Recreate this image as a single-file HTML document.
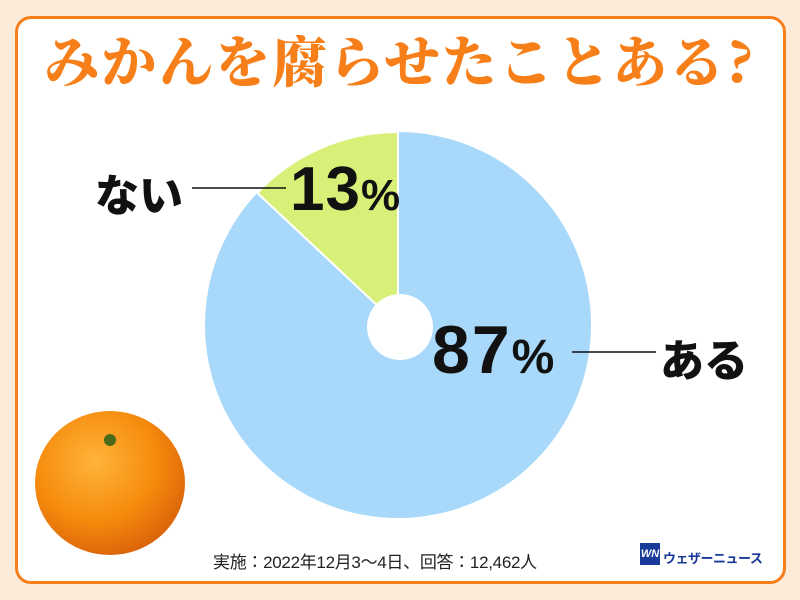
<!DOCTYPE html>
<html><head><meta charset="utf-8"><style>
body{margin:0;width:800px;height:600px;background:#fdebd9;position:relative;overflow:hidden;font-family:"Liberation Sans","Noto Sans CJK JP",sans-serif}
.frame{position:absolute;left:15px;top:16px;width:765px;height:562px;border:3px solid #f77f1a;border-radius:16px;background:#fff}
.title{position:absolute;left:0;width:800px;top:24px;text-align:center;font-family:"Noto Serif CJK SC","Noto Sans CJK JP",serif;font-weight:900;font-size:55px;color:#f77f1a;letter-spacing:2px;line-height:70px}
.t{position:absolute;font-weight:900;color:#111;white-space:nowrap}
</style></head><body>
<div class="frame"></div>
<div class="title">みかんを腐らせたことある?</div>
<svg width="800" height="600" style="position:absolute;left:0;top:0">
<defs><radialGradient id="og" cx="40%" cy="35%" r="70%"><stop offset="0" stop-color="#ffb43a"/><stop offset="0.6" stop-color="#f58a0c"/><stop offset="1" stop-color="#d8600a"/></radialGradient></defs>
<circle cx="398" cy="325" r="193" fill="#a8d8fa"/>
<path d="M398,325 L398,132 A193,193 0 0 0 257.3,192.9 Z" fill="#d8ef78" stroke="#fff" stroke-width="2"/>
<circle cx="400" cy="327" r="33" fill="#fff"/>
<line x1="192" y1="188" x2="286" y2="188" stroke="#111" stroke-width="1.5"/>
<line x1="572" y1="352" x2="656" y2="352" stroke="#111" stroke-width="1.5"/>
<ellipse cx="110" cy="483" rx="75" ry="72" fill="url(#og)"/>
<circle cx="110" cy="440" r="6" fill="#4a6a1a"/>
</svg>
<div class="t" style="left:95px;top:160px;font-size:44px">ない</div>
<div class="t" style="left:290px;top:160px;font-size:62px;line-height:60px;letter-spacing:1px">13<span style="font-size:44px">%</span></div>
<div class="t" style="left:432px;top:318px;font-size:68px;line-height:64px;letter-spacing:2px">87<span style="font-size:48px">%</span></div>
<div class="t" style="left:660px;top:325px;font-size:44px">ある</div>
<div style="position:absolute;left:213px;top:548px;font-size:17px;color:#222;letter-spacing:-0.3px">実施：2022年12月3～4日、回答：12,462人</div>
<div style="position:absolute;left:640px;top:543px;width:20px;height:22px;background:#1a3a9a;color:#fff;font-size:11px;font-weight:bold;font-style:italic;line-height:22px;text-align:center">WN</div>
<div style="position:absolute;left:663px;top:548px;font-size:13px;font-weight:bold;color:#1a3a9a;letter-spacing:-0.5px">ウェザーニュース</div>
</body></html>
